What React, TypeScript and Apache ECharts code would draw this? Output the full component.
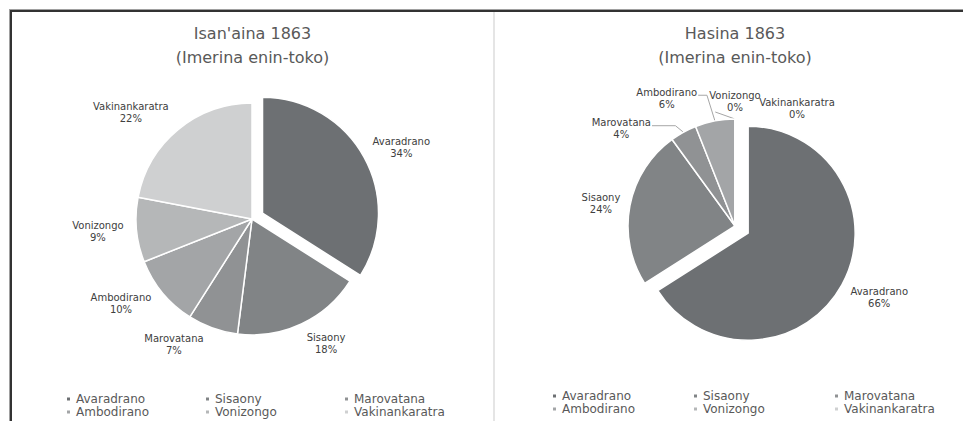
import React, { useEffect, useRef } from 'react';
import * as echarts from 'echarts';

// ---- data ----
const categories = ['Avaradrano', 'Sisaony', 'Marovatana', 'Ambodirano', 'Vonizongo', 'Vakinankaratra'];
const isanainaShare = [34, 18, 7, 10, 9, 22]; // Isan'aina 1863 (%)
const hasinaShare = [66, 24, 4, 6, 0, 0]; // Hasina 1863 (%)
const chartTitles = ["Isan'aina 1863\n(Imerina enin-toko)", "Hasina 1863\n(Imerina enin-toko)"];

// ---- styles / layout ----
const sliceColors = ['#6d7073', '#818486', '#909294', '#a3a5a7', '#b5b7b8', '#cfd0d1'];
const FONT = 'DejaVu Sans';
const leftLeader = [false, false, false, false, false, false];
const rightLeader = [false, false, true, true, true, false];
const leftNudge = [[-4, -3], [13, 1], [-26, -2], [-12, -2], [-5, 0], [-18, -2]];
const rightNudge = [[-3, 9], [-2, 1], [-44, 14], [-41, -3], [0, 2], [62, 9]];
// label line lengths used by the exploded (selected) slice's own label placement
const leftSelLine = { length: 20.2, length2: 14.4 };
const rightSelLine = { length: 27.4, length2: 8.3 };

function makeLabelLayout(values: number[], cx: number, cy: number, r: number, explode: number, gap: number, nudge: number[][], leader: boolean[]) {
  const total = values.reduce((a, b) => a + b, 0);
  return (params: any) => {
    const i = params.dataIndex;
    let before = 0;
    for (let k = 0; k < i; k++) before += values[k];
    const mid = ((before + values[i] / 2) / total) * Math.PI * 2;
    const ux = Math.sin(mid);
    const uy = -Math.cos(mid);
    const ex = i === 0 ? explode : 0;
    const ox = cx + ux * ex;
    const oy = cy + uy * ex;
    const w = params.labelRect.width;
    const h = params.labelRect.height;
    const px = ox + ux * (r + gap);
    const py = oy + uy * (r + gap);
    const lx = px + (ux * w) / 2 + nudge[i][0];
    const ly = py + (uy * h) / 2 + nudge[i][1];
    const res: any = { x: lx, y: ly, align: 'center', verticalAlign: 'middle' };
    if (leader[i]) {
      const ax = ox + ux * r;
      const ay = oy + uy * r;
      if (Math.abs(ax - lx) < w / 2) {
        res.labelLinePoints = [[lx - w / 2 + 6, ly + h / 2 - 1], [lx - w / 2 + 6, ly + h / 2 - 1], [ax, ay]];
      } else {
        const side = ax > lx ? 1 : -1;
        res.labelLinePoints = [[lx + (side * w) / 2 + side, ly - 3], [ax - side * 8, ly - 3], [ax, ay]];
      }
    }
    return res;
  };
}

function pieSeries(values: number[], cx: number, cy: number, r: number, explode: number, nudge: number[][], leader: boolean[], selLine: any) {
  return {
    type: 'pie',
    center: [cx, cy],
    radius: r,
    startAngle: 90,
    clockwise: true,
    selectedMode: 'single',
    selectedOffset: explode,
    avoidLabelOverlap: false,
    emphasis: { disabled: true },
    itemStyle: { borderColor: '#ffffff', borderWidth: 1.5 },
    select: { itemStyle: { borderColor: '#ffffff', borderWidth: 1.5 }, label: { color: '#404040' } },
    label: {
      show: true,
      position: 'outside',
      formatter: '{b}\n{d}%',
      fontFamily: FONT,
      fontSize: 10,
      lineHeight: 12,
      color: '#404040',
    },
    labelLine: { show: false, lineStyle: { color: '#a6a6a6', width: 1 } },
    labelLayout: makeLabelLayout(values, cx, cy, r, explode, 8, nudge, leader),
    data: categories.map((name, i) => ({
      name,
      value: values[i],
      selected: i === 0,
      itemStyle: { color: sliceColors[i] },
      labelLine: i === 0 ? { show: false, ...selLine } : { show: leader[i] },
    })),
  };
}

function legendOf(left: number, top: number, textW: number) {
  return {
    data: categories,
    left,
    top,
    width: 3 * (textW + 10) + 6,
    orient: 'horizontal',
    padding: 0,
    itemGap: 0,
    itemWidth: 5,
    itemHeight: 5,
    icon: 'rect',
    selectedMode: false,
    textStyle: { fontFamily: FONT, fontSize: 12, lineHeight: 13, color: '#595959', width: textW, overflow: 'none' },
  };
}

export default function App() {
  const ref = useRef<HTMLDivElement>(null);
  useEffect(() => {
    if (!ref.current) return;
    const chart = echarts.init(ref.current, undefined, { renderer: 'svg' });
    chart.setOption({
      animation: false,
      backgroundColor: '#ffffff',
      graphic: [
        { type: 'line', silent: true, shape: { x1: 9, y1: 9.5, x2: 963, y2: 9.5 }, style: { stroke: '#a0a0a0', lineWidth: 1 } },
        { type: 'line', silent: true, shape: { x1: 9.5, y1: 9, x2: 9.5, y2: 421 }, style: { stroke: '#a0a0a0', lineWidth: 1 } },
        { type: 'line', silent: true, shape: { x1: 10, y1: 11, x2: 963, y2: 11 }, style: { stroke: '#333333', lineWidth: 2 } },
        { type: 'line', silent: true, shape: { x1: 11, y1: 10, x2: 11, y2: 421 }, style: { stroke: '#333333', lineWidth: 2 } },
        { type: 'line', silent: true, shape: { x1: 494, y1: 12, x2: 494, y2: 421 }, style: { stroke: '#dcdcdc', lineWidth: 1.5 } },
        {
          type: 'text', silent: true, x: 252.5, y: 45.8,
          style: { text: chartTitles[0], align: 'center', verticalAlign: 'middle', fontFamily: FONT, fontSize: 16, lineHeight: 24, fill: '#595959' },
        },
        {
          type: 'text', silent: true, x: 735, y: 45.8,
          style: { text: chartTitles[1], align: 'center', verticalAlign: 'middle', fontFamily: FONT, fontSize: 16, lineHeight: 24, fill: '#595959' },
        },
      ],
      legend: [legendOf(65, 392.5, 128), legendOf(551, 389.5, 130)],
      series: [
        pieSeries(isanainaShare, 252, 219, 116, 12, leftNudge, leftLeader, leftSelLine),
        pieSeries(hasinaShare, 735, 226, 107, 15, rightNudge, rightLeader, rightSelLine),
      ],
    });
    return () => chart.dispose();
  }, []);
  return <div ref={ref} style={{ position: 'absolute', left: 0, top: 0, width: 963, height: 421 }} />;
}
